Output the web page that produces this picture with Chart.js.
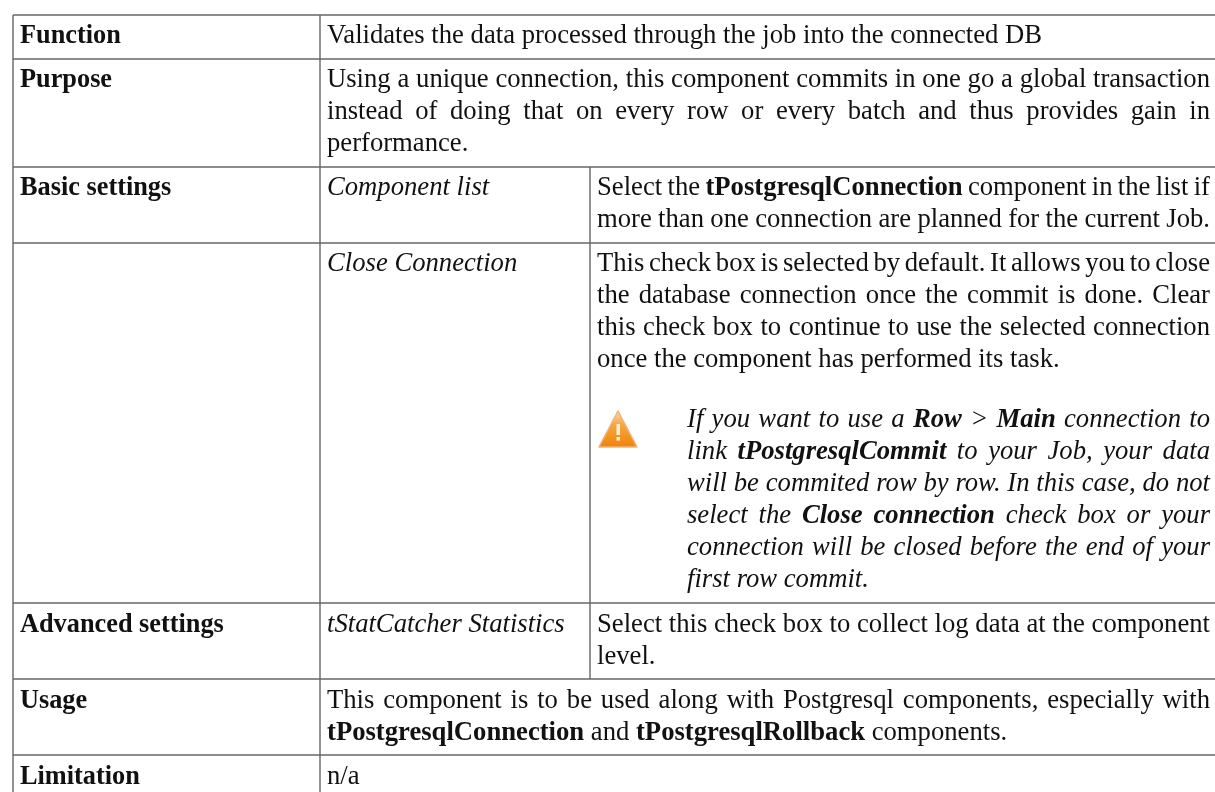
<!DOCTYPE html>
<html>
<head>
<meta charset="utf-8">
<title>tPostgresqlCommit</title>
<script src="https://cdn.jsdelivr.net/npm/chart.js@4"></script>
<style>
  html, body { margin: 0; padding: 0; background: #fff; }
  canvas { display: block; }
</style>
</head>
<body>
<canvas id="tableChart" width="1215" height="792"></canvas>
<script>
// cell contents, ** marks bold
let rowLabels = ['Function', 'Purpose', 'Basic settings', 'Advanced settings', 'Usage', 'Limitation'];
let propertyLabels = ['Component list', 'Close Connection', 'tStatCatcher Statistics'];
let functionText = ['Validates the data processed through the job into the connected DB'];
let purposeText = [
    'Using a unique connection, this component commits in one go a global transaction',
    'instead of doing that on every row or every batch and thus provides gain in',
    'performance.'
];
let componentListText = [
    'Select the **tPostgresqlConnection** component in the list if',
    'more than one connection are planned for the current Job.'
];
let closeConnectionText = [
    'This check box is selected by default. It allows you to close',
    'the database connection once the commit is done. Clear',
    'this check box to continue to use the selected connection',
    'once the component has performed its task.'
];
let warningText = [
    'If you want to use a **Row** > **Main** connection to',
    'link **tPostgresqlCommit** to your Job, your data',
    'will be commited row by row. In this case, do not',
    'select the **Close connection** check box or your',
    'connection will be closed before the end of your',
    'first row commit.'
];
let statCatcherText = ['Select this check box to collect log data at the component', 'level.'];
let usageText = [
    'This component is to be used along with Postgresql components, especially with',
    '**tPostgresqlConnection** and **tPostgresqlRollback** components.'
];
let limitationText = ['n/a'];

// table geometry, in the same units as the chart scales
let rowEdges = [15, 59, 167, 243, 603, 679, 755];
let columnEdges = [13, 320, 590];
let pageBottom = 792;
let pageRight = 1215;
let textRight = 1210;
let fontSize = 26.67;
let labelFontSize = 26.3;
let lineGap = 32;
let ruleColor = '#666';

function rule(x1, y1, x2, y2) {
    return {
        data: [{ x: x1, y: y1 }, { x: x2, y: y2 }],
        showLine: true,
        borderColor: ruleColor,
        borderWidth: 1.4,
        pointRadius: 0,
        clip: false
    };
}

let rules = [];
rowEdges.forEach(y => rules.push(rule(columnEdges[0], y, pageRight, y)));
rules.push(rule(columnEdges[0], rowEdges[0], columnEdges[0], pageBottom));
rules.push(rule(columnEdges[1], rowEdges[0], columnEdges[1], pageBottom));
rules.push(rule(columnEdges[2], rowEdges[2], columnEdges[2], rowEdges[5]));

function fontFor(italic, bold, size) {
    return (italic ? 'italic ' : '') + (bold ? 'bold ' : '') + (size || fontSize) + 'px "Liberation Serif"';
}

// split a line in words, keeping the bold state of each
function wordsOf(line) {
    let words = [];
    line.split('**').forEach((part, i) => {
        part.split(' ').forEach((w, j) => {
            if (j > 0) words.push({ text: '', bold: false, gap: true });
            if (w) words.push({ text: w, bold: i % 2 === 1 });
        });
    });
    return words;
}

function drawLine(ctx, line, x, y, opts) {
    let items = wordsOf(line);
    let width = 0;
    let gaps = 0;
    ctx.font = fontFor(opts.italic, false, opts.size);
    let spaceWidth = ctx.measureText(' ').width;
    items.forEach(w => {
        if (w.gap) { width += spaceWidth; gaps++; return; }
        ctx.font = fontFor(opts.italic, opts.bold || w.bold, opts.size);
        width += ctx.measureText(w.text).width;
    });
    let extra = opts.right && gaps ? (opts.right - x - width) / gaps : 0;
    let px = x;
    items.forEach(w => {
        if (w.gap) { px += spaceWidth + extra; return; }
        ctx.font = fontFor(opts.italic, opts.bold || w.bold, opts.size);
        ctx.fillText(w.text, px, y);
        px += ctx.measureText(w.text).width;
    });
}

function drawBlock(ctx, lines, x, y, opts) {
    lines.forEach((line, i) => {
        let right = opts.right && i < lines.length - 1 + (opts.fullLast ? 1 : 0) ? opts.right : null;
        drawLine(ctx, line, x, y + i * lineGap, { italic: opts.italic, bold: opts.bold, right: right });
    });
}

function drawWarningIcon(ctx, x, y) {
    let g = ctx.createLinearGradient(0, y, 0, y + 38);
    g.addColorStop(0, '#f8dcae');
    g.addColorStop(0.4, '#f7a640');
    g.addColorStop(1, '#ef8306');
    ctx.save();
    ctx.fillStyle = g;
    ctx.strokeStyle = '#eeb47a';
    ctx.lineWidth = 1.5;
    ctx.lineJoin = 'round';
    ctx.beginPath();
    ctx.moveTo(x + 19, y + 1);
    ctx.lineTo(x + 38, y + 37);
    ctx.lineTo(x, y + 37);
    ctx.closePath();
    ctx.fill();
    ctx.stroke();
    ctx.fillStyle = '#fff1d6';
    ctx.fillRect(x + 17.5, y + 14, 3.5, 11);
    ctx.fillRect(x + 17.5, y + 27, 3.5, 3.5);
    ctx.restore();
}

let tableText = {
    id: 'tableText',
    afterDatasetsDraw(chart) {
        let ctx = chart.ctx;
        let sx = chart.scales.x;
        let sy = chart.scales.y;
        let X = v => sx.getPixelForValue(v);
        let Y = v => sy.getPixelForValue(v);
        let right = X(textRight);
        ctx.save();
        ctx.fillStyle = '#111';
        ctx.textBaseline = 'alphabetic';

        let labelY = [43, 87, 195, 632, 708, 784];
        rowLabels.forEach((t, i) => drawLine(ctx, t, X(20), Y(labelY[i]), { bold: true, size: labelFontSize }));

        let propY = [195, 271, 632];
        propertyLabels.forEach((t, i) => drawLine(ctx, t, X(327), Y(propY[i]), { italic: true }));

        drawBlock(ctx, functionText, X(327), Y(43), {});
        drawBlock(ctx, purposeText, X(327), Y(87), { right: right });
        drawBlock(ctx, componentListText, X(597), Y(195), { right: right, fullLast: true });
        drawBlock(ctx, closeConnectionText, X(597), Y(271), { right: right });
        drawBlock(ctx, warningText, X(687), Y(427), { italic: true, right: right });
        drawBlock(ctx, statCatcherText, X(597), Y(632), { right: right });
        drawBlock(ctx, usageText, X(327), Y(708), { right: right });
        drawBlock(ctx, limitationText, X(327), Y(784), {});

        drawWarningIcon(ctx, X(599), Y(410));
        ctx.restore();
    }
};

let ctx = document.getElementById('tableChart').getContext('2d');
let tableChart = new Chart(ctx, {
    type: 'scatter',
    data: { datasets: rules },
    options: {
        responsive: false,
        animation: false,
        layout: { padding: 0 },
        plugins: { legend: { display: false }, tooltip: { enabled: false } },
        scales: {
            x: { type: 'linear', min: 0, max: pageRight, display: false },
            y: { type: 'linear', min: 0, max: pageBottom, reverse: true, display: false }
        }
    },
    plugins: [tableText]
});
</script>
</body>
</html>
